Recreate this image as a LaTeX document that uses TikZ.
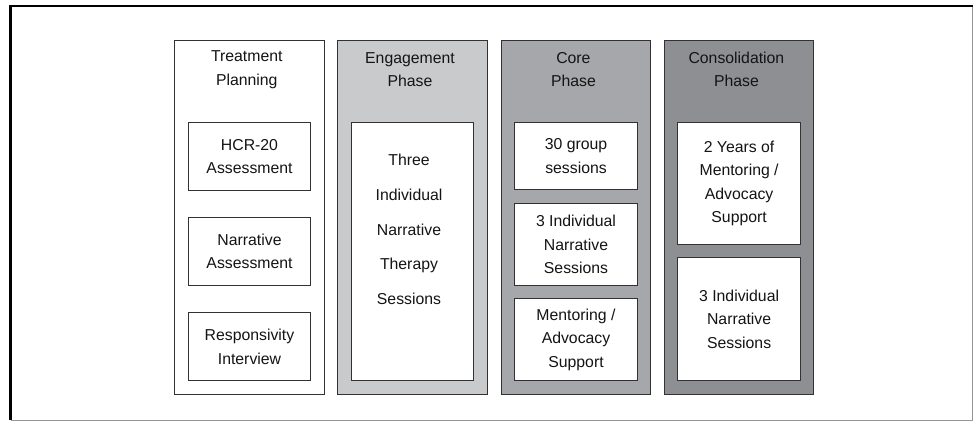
\documentclass[tikz,border=0pt]{standalone}
\usepackage{fontspec}
\setmainfont{Liberation Sans}
\definecolor{edgegray}{RGB}{50,50,52}
\definecolor{engagefill}{RGB}{201,202,204}
\definecolor{corefill}{RGB}{166,167,170}
\definecolor{consolfill}{RGB}{142,143,147}
\definecolor{framegray}{RGB}{150,150,150}
\begin{document}
\begin{tikzpicture}[x=1pt,y=-1pt,
  lbl/.style={font=\fontsize{15.8}{23.5}\selectfont, align=center, text=black!92},
  phasebox/.style={draw=edgegray, line width=1.1pt, minimum width=149.5pt,
    minimum height=353.5pt, anchor=north west, inner sep=0pt},
  itembox/.style={draw=edgegray, line width=1.1pt, fill=white, minimum width=122.5pt,
    anchor=north west, inner sep=0pt, lbl},
  head/.style={lbl, anchor=center}]
  \useasboundingbox (0,0) rectangle (974,421);
  % page frame
  \coordinate (fbl) at (10.5,420.2);
  \coordinate (ftl) at (10.5,5.8);
  \coordinate (ftr) at (972.6,5.8);
  \coordinate (fbr) at (972.6,420.2);
  \draw[framegray, line width=0.8pt] (ftr) -- (fbr) -- (fbl);
  \draw[black, line width=2.3pt] (fbl) -- (ftl) -- (ftr);

  % phase columns
  \node[phasebox, fill=white]      (plan)    at (174,40)   {};
  \node[phasebox, fill=engagefill] (engage)  at (337.3,40) {};
  \node[phasebox, fill=corefill]   (core)    at (500.7,40) {};
  \node[phasebox, fill=consolfill] (consol)  at (663.6,40) {};

  % column headings
  \node[head] (planhead)   at (246.8,69.5) {Treatment\\Planning};
  \node[head] (engagehead) at (410,69.5)   {Engagement\\Phase};
  \node[head] (corehead)   at (573.4,69.5) {Core\\Phase};
  \node[head] (consolhead) at (736.4,69.5) {Consolidation\\Phase};

  % treatment planning items
  \node[itembox, minimum height=68.3pt] (hcr)  at (187.7,121.7) {HCR-20\\Assessment};
  \node[itembox, minimum height=68.3pt] (narr) at (187.7,216.7) {Narrative\\Assessment};
  \node[itembox, minimum height=68.3pt] (resp) at (187.7,312.0) {Responsivity\\Interview};

  % engagement phase item
  \node[itembox, minimum height=258.3pt] (three) at (350.8,121.7) {};
  \node[lbl, font=\fontsize{15.8}{34.8}\selectfont] (threetext) at (409,229.5)
    {Three\\Individual\\Narrative\\Therapy\\Sessions};

  % core phase items
  \node[itembox, minimum height=67.6pt] (group)  at (514.2,121.7) {30 group\\sessions};
  \node[itembox, minimum height=81.7pt] (indiv)  at (514.2,203.3) {3 Individual\\Narrative\\Sessions};
  \node[itembox, minimum height=81.7pt] (mentor) at (514.2,298.3) {Mentoring /\\Advocacy\\Support};

  % consolidation phase items
  \node[itembox, minimum height=122.3pt] (years)   at (677.3,121.7) {2 Years of\\Mentoring /\\Advocacy\\Support};
  \node[itembox, minimum height=122.7pt] (indivtwo) at (677.3,257.3) {3 Individual\\Narrative\\Sessions};
\end{tikzpicture}
\end{document}
